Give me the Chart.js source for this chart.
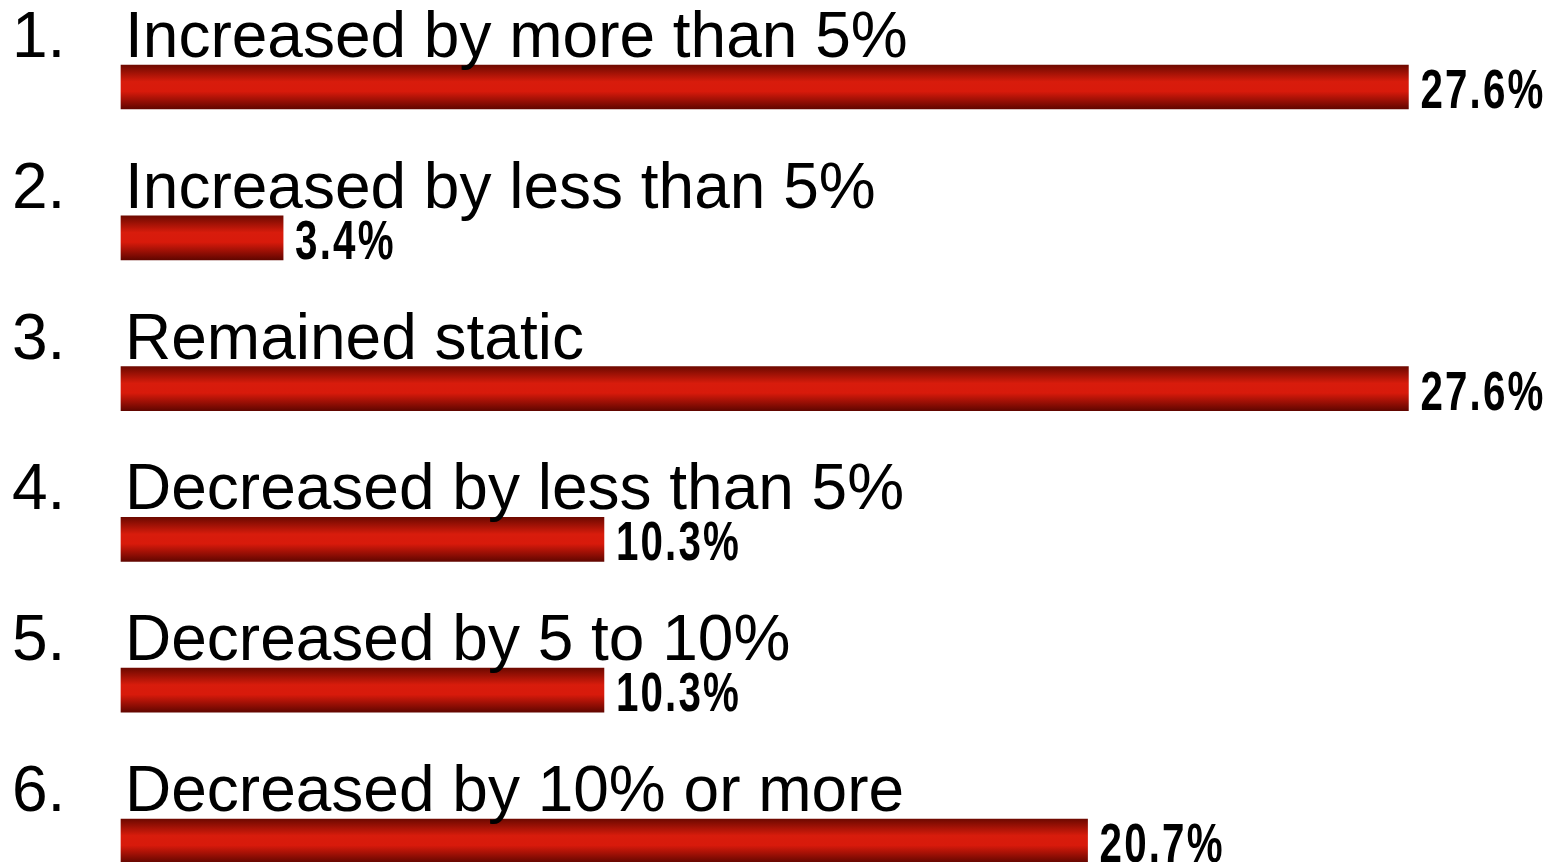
<!DOCTYPE html>
<html>
<head>
<meta charset="utf-8">
<script src="https://cdn.jsdelivr.net/npm/chart.js@4/dist/chart.umd.min.js"></script>
<style>
  html, body { margin: 0; padding: 0; background: #ffffff; }
  #wrap { width: 1551px; height: 862px; position: relative; }
</style>
</head>
<body>
<div id="wrap"><canvas id="c" width="1551" height="862"></canvas></div>
<script>
const itemNumbers = ['1.', '2.', '3.', '4.', '5.', '6.'];
const categories = [
  'Increased by more than 5%',
  'Increased by less than 5%',
  'Remained static',
  'Decreased by less than 5%',
  'Decreased by 5 to 10%',
  'Decreased by 10% or more'
];
const values = [27.6, 3.4, 27.6, 10.3, 10.3, 20.7];
const valueLabels = ['27.6%', '3.4%', '27.6%', '10.3%', '10.3%', '20.7%'];

const BAR_H = 44;
const AXIS_MIN = -0.086;

function barGradient(context) {
  const chart = context.chart;
  const y = chart.scales && chart.scales.y;
  if (!y || y.top === undefined || context.dataIndex === undefined) return '#d81a0b';
  const yc = y.getPixelForValue(context.dataIndex);
  const g = chart.ctx.createLinearGradient(0, yc - BAR_H / 2, 0, yc + BAR_H / 2);
  g.addColorStop(0, '#6e0900');
  g.addColorStop(0.38, '#d81c0c');
  g.addColorStop(0.6, '#d81a0b');
  g.addColorStop(1, '#620600');
  return g;
}

const labelPlugin = {
  id: 'labelPlugin',
  afterDatasetsDraw(chart) {
    const ctx = chart.ctx;
    const meta = chart.getDatasetMeta(0);
    ctx.save();
    meta.data.forEach((bar, i) => {
      const top = bar.y - BAR_H / 2;
      const bottom = bar.y + BAR_H / 2;
      ctx.fillStyle = '#000000';
      ctx.textBaseline = 'alphabetic';
      ctx.textAlign = 'left';
      ctx.font = '64px "Liberation Sans", Arial, sans-serif';
      ctx.fillText(itemNumbers[i], 12, top - 8);
      ctx.fillText(categories[i], 125, top - 8);
      ctx.save();
      ctx.translate(bar.x + 12, bottom - 1);
      ctx.scale(0.72, 1);
      ctx.font = 'bold 56px "Liberation Sans", Arial, sans-serif';
      if ('letterSpacing' in ctx) ctx.letterSpacing = '3px';
      ctx.fillText(valueLabels[i], 0, 0);
      ctx.restore();
    });
    ctx.restore();
  }
};

new Chart(document.getElementById('c'), {
  type: 'bar',
  data: {
    labels: categories,
    datasets: [{
      data: values,
      base: AXIS_MIN,
      backgroundColor: barGradient,
      borderWidth: 0,
      barThickness: BAR_H,
      clip: false
    }]
  },
  options: {
    indexAxis: 'y',
    responsive: false,
    animation: false,
    layout: { padding: { left: 121, right: 31, top: 87, bottom: 21 } },
    scales: {
      x: { display: false, min: AXIS_MIN, max: 30 },
      y: { display: false, offset: false }
    },
    plugins: {
      legend: { display: false },
      tooltip: { enabled: false }
    }
  },
  plugins: [labelPlugin]
});
</script>
</body>
</html>
